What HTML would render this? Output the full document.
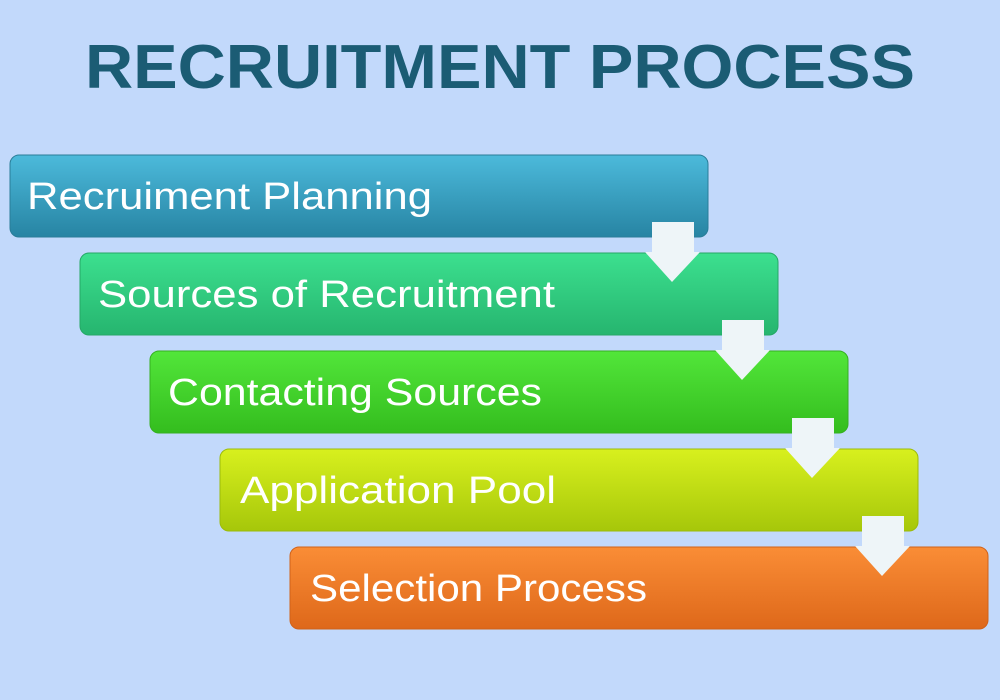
<!DOCTYPE html>
<html><head><style>html,body{margin:0;padding:0;background:#c2d9fb;}svg{display:block}</style></head>
<body>
<svg width="1000" height="700" xmlns="http://www.w3.org/2000/svg">
<defs>
<linearGradient id="g1" x1="0" y1="0" x2="0" y2="1"><stop offset="0" stop-color="#4cbadb"/><stop offset="1" stop-color="#2784a3"/></linearGradient>
<linearGradient id="g2" x1="0" y1="0" x2="0" y2="1"><stop offset="0" stop-color="#3ce08f"/><stop offset="1" stop-color="#26b56f"/></linearGradient>
<linearGradient id="g3" x1="0" y1="0" x2="0" y2="1"><stop offset="0" stop-color="#52e63a"/><stop offset="1" stop-color="#34bd1e"/></linearGradient>
<linearGradient id="g4" x1="0" y1="0" x2="0" y2="1"><stop offset="0" stop-color="#d8f01e"/><stop offset="1" stop-color="#a6c70a"/></linearGradient>
<linearGradient id="g5" x1="0" y1="0" x2="0" y2="1"><stop offset="0" stop-color="#fa8d36"/><stop offset="1" stop-color="#de681a"/></linearGradient>
</defs>
<rect width="1000" height="700" fill="#c2d9fb"/>
<text x="500" y="88" text-anchor="middle" font-family="Liberation Sans, sans-serif" font-weight="bold" font-size="62" fill="#1b5c74" textLength="830" lengthAdjust="spacingAndGlyphs">RECRUITMENT PROCESS</text>
<g font-family="Liberation Sans, sans-serif" font-size="38" fill="#fff">
<rect x="10" y="155" width="698" height="82" rx="9" fill="url(#g1)" stroke="#2a7d98" stroke-width="1"/>
<text x="27" y="209" textLength="405" lengthAdjust="spacingAndGlyphs">Recruiment Planning</text>
<rect x="80" y="253" width="698" height="82" rx="9" fill="url(#g2)" stroke="#25a866" stroke-width="1"/>
<text x="98" y="307" textLength="457" lengthAdjust="spacingAndGlyphs">Sources of Recruitment</text>
<rect x="150" y="351" width="698" height="82" rx="9" fill="url(#g3)" stroke="#35b020" stroke-width="1"/>
<text x="168" y="405" textLength="374" lengthAdjust="spacingAndGlyphs">Contacting Sources</text>
<rect x="220" y="449" width="698" height="82" rx="9" fill="url(#g4)" stroke="#9cbb0a" stroke-width="1"/>
<text x="240" y="503" textLength="316" lengthAdjust="spacingAndGlyphs">Application Pool</text>
<rect x="290" y="547" width="698" height="82" rx="9" fill="url(#g5)" stroke="#d0621a" stroke-width="1"/>
<text x="310" y="601" textLength="337" lengthAdjust="spacingAndGlyphs">Selection Process</text>
</g>
<g fill="#eef5f8">
<path d="M652 222H694V252H700L672 282L645 252H652Z"/>
<path d="M722 320H764V350H770L742 380L715 350H722Z"/>
<path d="M792 418H834V448H840L812 478L785 448H792Z"/>
<path d="M862 516H904V546H910L882 576L855 546H862Z"/>
</g>
</svg>
</body></html>
